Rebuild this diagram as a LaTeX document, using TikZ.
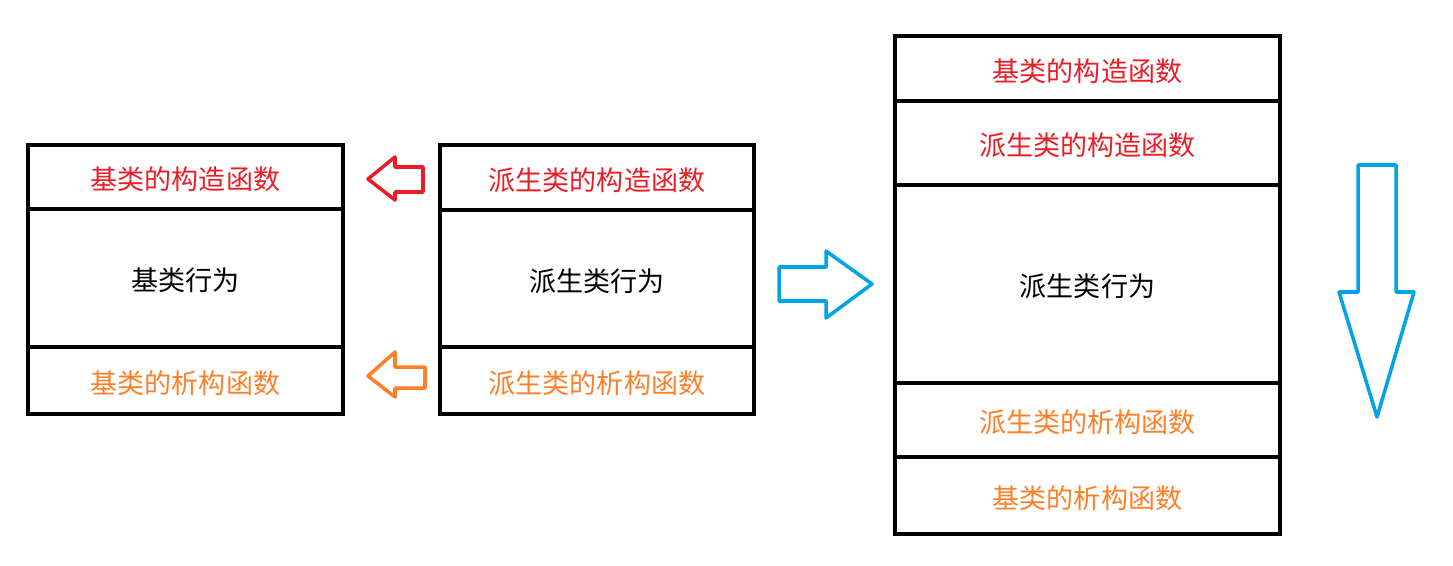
\documentclass[tikz,border=0pt]{standalone}
\usepackage{fontspec}
\newfontfamily\cjk{Noto Sans CJK SC}
\usetikzlibrary{positioning}
\definecolor{ctorred}{HTML}{ED1C24}
\definecolor{dtororange}{HTML}{FF7F27}
\definecolor{flowblue}{HTML}{00A2E8}
\tikzset{
	cell/.style={draw, line width=2.2pt, inner sep=0pt, outer sep=0pt, align=center,
		text height=1.55em, text depth=0.1em,
		font=\cjk\fontsize{15.4}{18}\selectfont},
	ctor/.style={cell, text=ctorred},
	dtor/.style={cell, text=dtororange},
	body/.style={cell, text=black},
	blockarrow/.style={line width=2pt, line join=round}
}

\begin{document}
\begin{tikzpicture}[x=0.02cm, y=-0.02cm]
	\useasboundingbox (0,0) rectangle (1453,565);
	% base class
	\node (basector) [ctor, minimum width=6.3cm, minimum height=1.28cm, anchor=north west] at (28,145) {基类的构造函数};
	\node (basebody) [body, minimum width=6.3cm, minimum height=2.76cm, below=0pt of basector] {基类行为};
	\node (basedtor) [dtor, minimum width=6.3cm, minimum height=1.34cm, below=0pt of basebody] {基类的析构函数};
	% derived class
	\node (derivctor) [ctor, minimum width=6.28cm, minimum height=1.30cm, anchor=north west] at (440,145) {派生类的构造函数};
	\node (derivbody) [body, minimum width=6.28cm, minimum height=2.74cm, below=0pt of derivctor] {派生类行为};
	\node (derivdtor) [dtor, minimum width=6.28cm, minimum height=1.34cm, below=0pt of derivbody] {派生类的析构函数};
	% full object
	\node (fullbasector) [ctor, minimum width=7.7cm, minimum height=1.30cm, anchor=north west] at (895,36) {基类的构造函数};
	\node (fullderivctor) [ctor, minimum width=7.7cm, minimum height=1.68cm, below=0pt of fullbasector] {派生类的构造函数};
	\node (fullbody) [body, minimum width=7.7cm, minimum height=3.96cm, below=0pt of fullderivctor] {派生类行为};
	\node (fullderivdtor) [dtor, minimum width=7.7cm, minimum height=1.48cm, below=0pt of fullbody] {派生类的析构函数};
	\node (fullbasedtor) [dtor, minimum width=7.7cm, minimum height=1.54cm, below=0pt of fullderivdtor] {基类的析构函数};
	% block arrows
	\draw[blockarrow, ctorred] (423,167) -- (395,167) -- (395,157) -- (368,179) -- (395,200) -- (395,192) -- (423,192) -- cycle;
	\draw[blockarrow, dtororange] (425,367) -- (395,367) -- (395,352) -- (368,376) -- (395,397) -- (395,388) -- (425,388) -- cycle;
	\draw[blockarrow, flowblue] (779,267) -- (826,267) -- (826,251) -- (872,284) -- (826,318) -- (826,301) -- (779,301) -- cycle;
	\draw[blockarrow, flowblue] (1358,165) -- (1396,165) -- (1396,292) -- (1414,292) -- (1377,417) -- (1339,292) -- (1358,292) -- cycle;
\end{tikzpicture}
\end{document}
